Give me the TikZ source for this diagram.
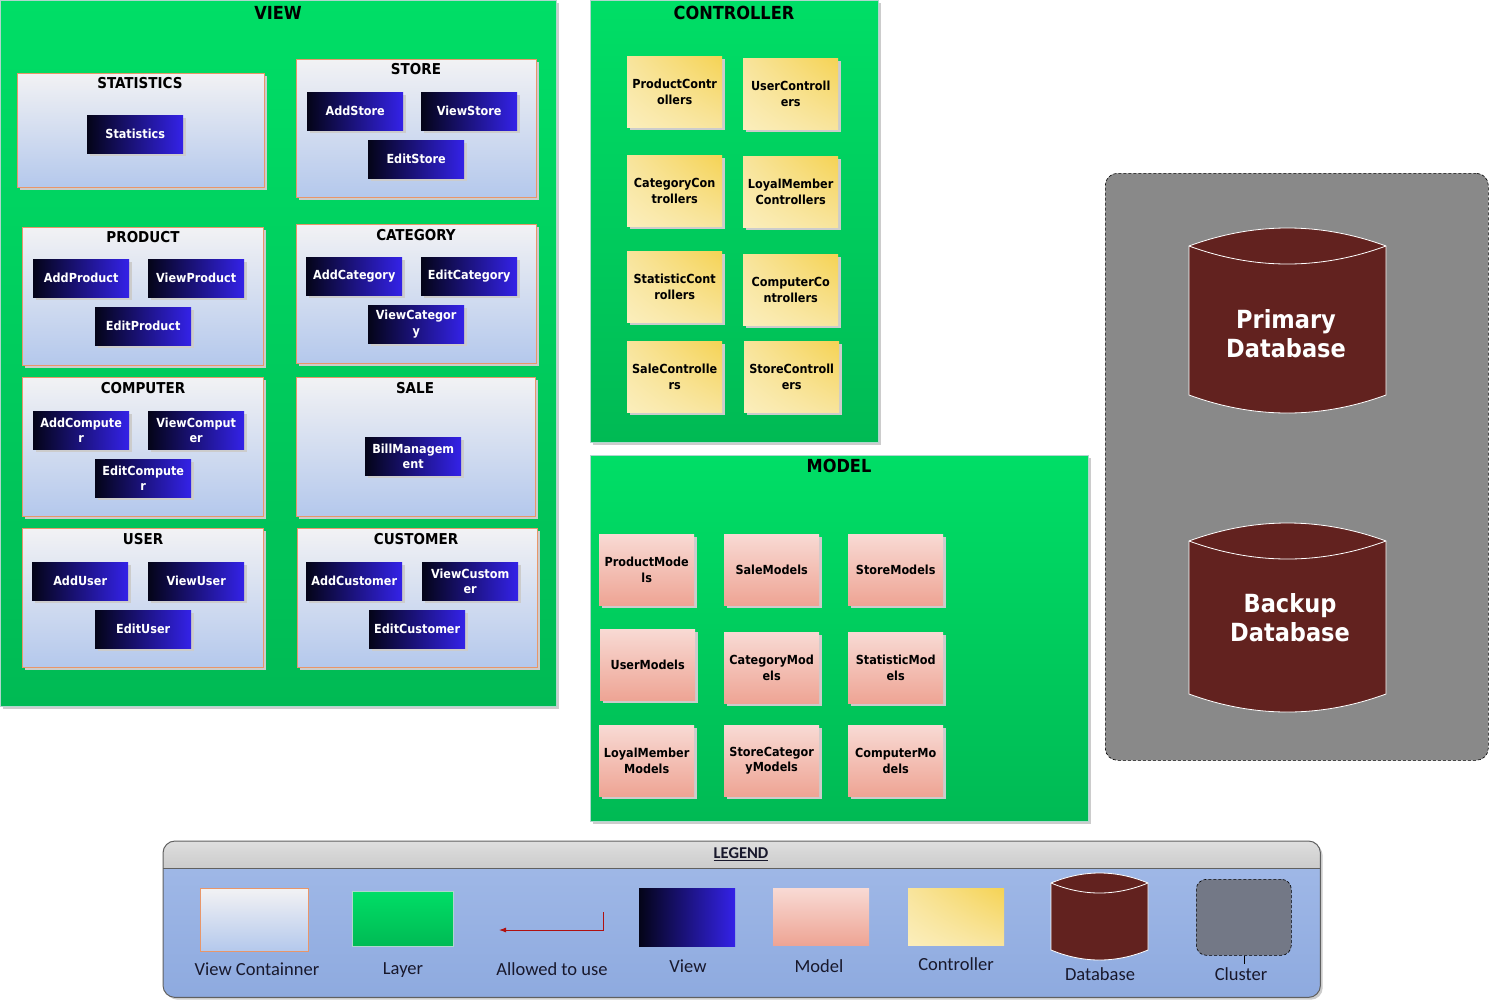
\documentclass[tikz,border=0pt]{standalone}
\usepackage{fontspec}
\setmainfont{Carlito}
\newfontfamily\boxfont{DejaVu Sans Condensed}[BoldFont={DejaVu Sans Condensed Bold}]
\usetikzlibrary{shadows,shadings,arrows.meta}

\definecolor{layertop}{RGB}{0,222,102}
\definecolor{layerbot}{RGB}{0,186,84}
\definecolor{layeredge}{RGB}{175,215,205}
\definecolor{conttop}{RGB}{242,242,244}
\definecolor{contbot}{RGB}{180,200,236}
\definecolor{contedge}{RGB}{232,150,106}
\definecolor{viewleft}{RGB}{4,4,24}
\definecolor{viewright}{RGB}{52,34,232}
\definecolor{ctrlhi}{RGB}{245,211,84}
\definecolor{ctrlmid}{RGB}{248,228,156}
\definecolor{ctrllo}{RGB}{251,238,188}
\definecolor{modtop}{RGB}{248,218,212}
\definecolor{modbot}{RGB}{238,164,148}
\definecolor{dbfill}{RGB}{98,34,31}
\definecolor{clusterfill}{RGB}{137,137,137}
\definecolor{legtop}{RGB}{162,186,232}
\definecolor{legbot}{RGB}{142,170,223}
\definecolor{legheadtop}{RGB}{222,222,222}
\definecolor{legheadbot}{RGB}{188,188,188}
\definecolor{legedge}{RGB}{96,96,96}
\definecolor{legtextcol}{RGB}{24,24,44}
\definecolor{arrowred}{RGB}{176,16,16}
\definecolor{legcluster}{RGB}{115,120,134}

% database cylinder: left, right, top, bottom, curve depth
\newcommand\dbcyl[5]{%
  \path[fill=dbfill, draw=white, line width=0.8pt]
    (#1,{#3+#5}) .. controls ({#1+(#2-#1)/3},{#3-#5/3}) and ({#1+2*(#2-#1)/3},{#3-#5/3}) .. (#2,{#3+#5})
    -- (#2,{#4-#5}) .. controls ({#1+2*(#2-#1)/3},{#4+#5/3}) and ({#1+(#2-#1)/3},{#4+#5/3}) .. (#1,{#4-#5})
    -- cycle;
  \draw[white, line width=0.8pt]
    (#1,{#3+#5}) .. controls ({#1+(#2-#1)/3},{#3+7*#5/3}) and ({#1+2*(#2-#1)/3},{#3+7*#5/3}) .. (#2,{#3+#5});
}

\tikzset{
  softshadow/.style={drop shadow={shadow xshift=2.5pt, shadow yshift=-2.5pt, fill=black!20, opacity=1}},
  box/.style={anchor=north west, inner sep=0pt, align=center,
    font=\boxfont\bfseries\fontsize{12.5}{15.5}\selectfont},
  layer/.style={anchor=north west, inner sep=0pt, draw=layeredge, line width=0.7pt,
    top color=layertop, bottom color=layerbot},
  layertitle/.style={font=\boxfont\bfseries\fontsize{18}{20}\selectfont},
  container/.style={anchor=north west, inner sep=0pt, draw=contedge, line width=0.9pt,
    top color=conttop, bottom color=contbot},
  conttitle/.style={font=\boxfont\bfseries\fontsize{15}{17}\selectfont},
  viewbox/.style={box, minimum width=96pt, minimum height=38pt,
    left color=viewleft, right color=viewright, text=white},
  ctrlbox/.style={box, minimum width=95pt, minimum height=71pt, shade,
    upper right=ctrlhi, upper left=ctrlmid, lower right=ctrlmid, lower left=ctrllo},
  modbox/.style={box, minimum width=95pt, minimum height=71pt,
    top color=modtop, bottom color=modbot},
  dbtext/.style={font=\boxfont\bfseries\fontsize{25}{29}\selectfont, text=white, align=center},
  clusterbox/.style={anchor=north west, inner sep=0pt, draw=black, line width=0.6pt,
    dash pattern=on 3pt off 2pt, rounded corners=12pt},
  legtext/.style={font=\fontsize{18.5}{21}\selectfont, text=legtextcol},
}

\begin{document}
\begin{tikzpicture}[x=1pt,y=-1pt]
\useasboundingbox[fill=white] (0,0) rectangle (1491,999);

%----------------------------- VIEW layer
\node[layer, softshadow, minimum width=556pt, minimum height=706pt] (viewlayer) at (0,0) {};
\node[layertitle] (viewtitle) at (278,13) {VIEW};

\node[container, softshadow, minimum width=247pt, minimum height=114pt] (c-stat) at (17,73) {};
\node[conttitle] (t-stat) at (140,83) {STATISTICS};
\node[viewbox, softshadow] (statistics) at (87,115) {Statistics};

\node[container, softshadow, minimum width=240pt, minimum height=138pt] (c-store) at (296,59) {};
\node[conttitle] (t-store) at (416,69) {STORE};
\node[viewbox, softshadow] (addstore) at (307,92) {AddStore};
\node[viewbox, softshadow] (viewstore) at (421,92) {ViewStore};
\node[viewbox, softshadow] (editstore) at (368,140) {EditStore};

\node[container, softshadow, minimum width=241pt, minimum height=138pt] (c-product) at (22,227) {};
\node[conttitle] (t-product) at (143,237) {PRODUCT};
\node[viewbox, softshadow] (addproduct) at (33,259) {AddProduct};
\node[viewbox, softshadow] (viewproduct) at (148,259) {ViewProduct};
\node[viewbox, softshadow] (editproduct) at (95,307) {EditProduct};

\node[container, softshadow, minimum width=240pt, minimum height=139pt] (c-category) at (296,224) {};
\node[conttitle] (t-category) at (416,235) {CATEGORY};
\node[viewbox, softshadow] (addcategory) at (306,257) {AddCategory};
\node[viewbox, softshadow] (editcategory) at (421,257) {EditCategory};
\node[viewbox, softshadow] (viewcategory) at (368,305) {ViewCategor\\y};

\node[container, softshadow, minimum width=241pt, minimum height=139pt] (c-computer) at (22,377) {};
\node[conttitle] (t-computer) at (143,388) {COMPUTER};
\node[viewbox, softshadow] (addcomputer) at (33,411) {AddCompute\\r};
\node[viewbox, softshadow] (viewcomputer) at (148,411) {ViewComput\\er};
\node[viewbox, softshadow] (editcomputer) at (95,459) {EditCompute\\r};

\node[container, softshadow, minimum width=239pt, minimum height=139pt] (c-sale) at (296,377) {};
\node[conttitle] (t-sale) at (415,388) {SALE};
\node[viewbox, softshadow] (billmanagement) at (365,437) {BillManagem\\ent};

\node[container, softshadow, minimum width=241pt, minimum height=139pt] (c-user) at (22,528) {};
\node[conttitle] (t-user) at (143,539) {USER};
\node[viewbox, softshadow] (adduser) at (32,562) {AddUser};
\node[viewbox, softshadow] (viewuser) at (148,562) {ViewUser};
\node[viewbox, softshadow] (edituser) at (95,610) {EditUser};

\node[container, softshadow, minimum width=240pt, minimum height=139pt] (c-customer) at (297,528) {};
\node[conttitle] (t-customer) at (416,539) {CUSTOMER};
\node[viewbox, softshadow] (addcustomer) at (306,562) {AddCustomer};
\node[viewbox, softshadow] (viewcustomer) at (422,562) {ViewCustom\\er};
\node[viewbox, softshadow] (editcustomer) at (369,610) {EditCustomer};

%----------------------------- CONTROLLER layer
\node[layer, softshadow, minimum width=288pt, minimum height=442pt] (ctrllayer) at (590,0) {};
\node[layertitle] (ctrltitle) at (734,13) {CONTROLLER};
\node[ctrlbox, softshadow] (productctrl) at (627,56) {ProductContr\\ollers};
\node[ctrlbox, softshadow] (userctrl) at (743,58) {UserControll\\ers};
\node[ctrlbox, softshadow] (categoryctrl) at (627,155) {CategoryCon\\trollers};
\node[ctrlbox, softshadow] (loyalctrl) at (743,156) {LoyalMember\\Controllers};
\node[ctrlbox, softshadow] (statisticctrl) at (627,251) {StatisticCont\\rollers};
\node[ctrlbox, softshadow] (computerctrl) at (743,254) {ComputerCo\\ntrollers};
\node[ctrlbox, softshadow] (salectrl) at (627,341) {SaleControlle\\rs};
\node[ctrlbox, softshadow] (storectrl) at (744,341) {StoreControll\\ers};

%----------------------------- MODEL layer
\node[layer, softshadow, minimum width=498pt, minimum height=366pt] (modellayer) at (590,455) {};
\node[layertitle] (modeltitle) at (839,466) {MODEL};
\node[modbox, softshadow] (productmod) at (599,534) {ProductMode\\ls};
\node[modbox, softshadow] (salemod) at (724,534) {SaleModels};
\node[modbox, softshadow] (storemod) at (848,534) {StoreModels};
\node[modbox, softshadow] (usermod) at (600,629) {UserModels};
\node[modbox, softshadow] (categorymod) at (724,632) {CategoryMod\\els};
\node[modbox, softshadow] (statisticmod) at (848,632) {StatisticMod\\els};
\node[modbox, softshadow] (loyalmod) at (599,725) {LoyalMember\\Models};
\node[modbox, softshadow] (storecatmod) at (724,725) {StoreCategor\\yModels};
\node[modbox, softshadow] (computermod) at (848,725) {ComputerMo\\dels};

%----------------------------- database cluster
\node[clusterbox, fill=clusterfill, minimum width=383pt, minimum height=587pt] (cluster) at (1105,173) {};
\dbcyl{1189}{1386}{228}{413}{18}
\node[dbtext] (primarydb) at (1286,334) {Primary\\Database};
\dbcyl{1189}{1386}{523}{712}{18}
\node[dbtext] (backupdb) at (1290,618) {Backup\\Database};

%----------------------------- legend
\node[anchor=north west, inner sep=0pt, minimum width=1157pt, minimum height=156pt,
      rounded corners=12pt, top color=legtop, bottom color=legbot, softshadow] (legend) at (163,841) {};
\begin{scope}
  \clip (163,841) rectangle (1320,868);
  \shade[rounded corners=12pt, top color=legheadtop, bottom color=legheadbot] (163,841) rectangle (1320,890);
\end{scope}
\draw[legedge, line width=0.8pt] (legend.west |- 0,868) -- (legend.east |- 0,868);
\draw[legedge, line width=1pt, rounded corners=12pt] (legend.north west) rectangle (legend.south east);
\node[font=\bfseries\fontsize{16.5}{18}\selectfont, text=legtextcol] (legendtitle) at (741,854) {\underline{LEGEND}};

\node[container, minimum width=108pt, minimum height=63pt] (lg-cont) at (200,888) {};
\node[legtext] (lb-cont) at (257,969) {View Containner};

\node[layer, minimum width=101pt, minimum height=55pt] (lg-layer) at (352,891) {};
\node[legtext] (lb-layer) at (403,970) {Layer};

\coordinate (arrS) at (603,912);
\coordinate (arrE) at (499,930);
\draw[arrowred, line width=0.9pt, -{Latex[length=7pt,width=5pt]}] (arrS) |- (arrE);
\node[legtext] (lb-arrow) at (552,969) {Allowed to use};

\node[viewbox, minimum width=96pt, minimum height=58pt] (lg-view) at (639,888) {};
\node[legtext] (lb-view) at (688,966) {View};

\node[modbox, minimum width=96pt, minimum height=57pt] (lg-model) at (773,888) {};
\node[legtext] (lb-model) at (819,966) {Model};

\node[ctrlbox, minimum width=96pt, minimum height=57pt] (lg-ctrl) at (908,888) {};
\node[legtext] (lb-ctrl) at (956,964) {Controller};

\dbcyl{1051}{1148}{873}{960}{10}
\node[legtext] (lb-db) at (1100,974) {Database};

\node[clusterbox, fill=legcluster, rounded corners=10pt, minimum width=95pt, minimum height=76pt] (lg-cluster) at (1196,879) {};
\node[legtext] (lb-cluster) at (1241,974) {Cluster};
\draw[black, line width=0.6pt] (lg-cluster.south) -- (lg-cluster.south |- lb-cluster.north);
\end{tikzpicture}
\end{document}
